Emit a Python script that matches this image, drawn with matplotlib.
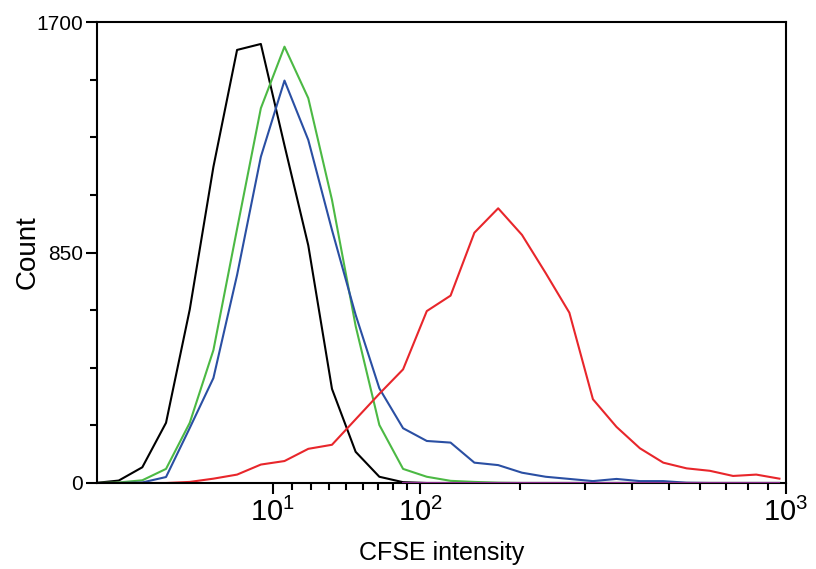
import numpy as np
import matplotlib
matplotlib.use('Agg')
import matplotlib.pyplot as plt
from matplotlib.ticker import FixedLocator, NullFormatter

plt.rcParams['font.family'] = ['Liberation Sans', 'DejaVu Sans']
plt.rcParams['mathtext.fontset'] = 'custom'
plt.rcParams['mathtext.rm'] = 'Liberation Sans'
plt.rcParams['mathtext.it'] = 'Liberation Sans:italic'
plt.rcParams['mathtext.bf'] = 'Liberation Sans:bold'

# histogram bin centres (CFSE intensity)
cfse = [-93.6, -76.5, -61.1, -46.8, -33.4, -20.7, -8.4, 3.8, 16.0, 28.6,
        41.7, 55.6, 70.6, 87.0, 105.1, 125.3, 148.0, 173.6, 202.6, 235.5,
        272.9, 315.4, 364.0, 419.3, 482.4, 554.5, 636.8, 730.9, 838.6, 961.9]

black = [0, 9, 58, 222, 640, 1166, 1597, 1619, 1245, 876,
         347, 115, 23, 3, 0, 0, 0, 0, 0, 0,
         0, 0, 0, 0, 0, 0, 0, 0, 0, 0]
green = [0, 2, 10, 52, 222, 490, 937, 1382, 1609, 1419,
         1044, 579, 214, 52, 23, 8, 4, 1, 0, 0,
         0, 0, 0, 0, 0, 0, 0, 0, 0, 0]
blue = [0, 0, 2, 22, 203, 387, 767, 1203, 1484, 1265,
        933, 620, 349, 202, 155, 149, 75, 66, 38, 23,
        15, 7, 15, 7, 7, 1, 0, 0, 0, 0]
red = [0, 0, 0, 0, 4, 16, 31, 68, 81, 126,
       141, 235, 329, 419, 634, 691, 923, 1013, 915, 774,
       628, 309, 207, 128, 75, 54, 45, 26, 31, 16]
purple = [0] * 17  # from bin 13 onwards

major_x = [10, 100, 1000]
major_x_labels = ['$10^{1}$', '$10^{2}$', '$10^{3}$']
minor_x = [20, 30, 40, 50, 60, 70, 80, 90, 200, 300, 400, 500, 600, 700, 800, 900]
major_y = [0, 850, 1700]
minor_y = [212.5, 425, 637.5, 1062.5, 1275, 1487.5]


def fwd(x):
    return np.arcsinh(np.asarray(x, dtype=float) / 87.0)


def inv(y):
    return 87.0 * np.sinh(np.asarray(y, dtype=float))


fig = plt.figure(figsize=(8.16, 5.69), dpi=100)
ax = fig.add_axes([97 / 816, 86 / 569, 689 / 816, 461 / 569])
ax.set_xscale('function', functions=(fwd, inv))

lw = 1.5
ax.plot(cfse, black, color='#000000', lw=lw)
ax.plot(cfse[13:], purple, color='#8a2a8c', lw=lw, zorder=3)
ax.plot(cfse, green, color='#4cb944', lw=lw)
ax.plot(cfse, blue, color='#2a4fa3', lw=lw)
ax.plot(cfse, red, color='#e8262b', lw=lw)

ax.set_xlim(-92, 1000)
ax.set_ylim(0, 1700)

ax.xaxis.set_major_locator(FixedLocator(major_x))
ax.set_xticklabels(major_x_labels)
ax.xaxis.set_minor_locator(FixedLocator(minor_x))
ax.xaxis.set_minor_formatter(NullFormatter())
ax.yaxis.set_major_locator(FixedLocator(major_y))
ax.set_yticklabels([str(v) for v in major_y])
ax.yaxis.set_minor_locator(FixedLocator(minor_y))

for s in ax.spines.values():
    s.set_linewidth(1.5)
ax.tick_params(axis='both', which='major', direction='out', length=8, width=1.5)
ax.tick_params(axis='both', which='minor', direction='out', length=5, width=1.5)
ax.tick_params(axis='y', which='major', labelsize=15, pad=2)
ax.tick_params(axis='x', which='major', labelsize=21, pad=3)

ax.set_xlabel('CFSE intensity', fontsize=18, labelpad=10)
ax.set_ylabel('Count', fontsize=20, labelpad=-3)

fig.savefig('out.png', dpi=100)
